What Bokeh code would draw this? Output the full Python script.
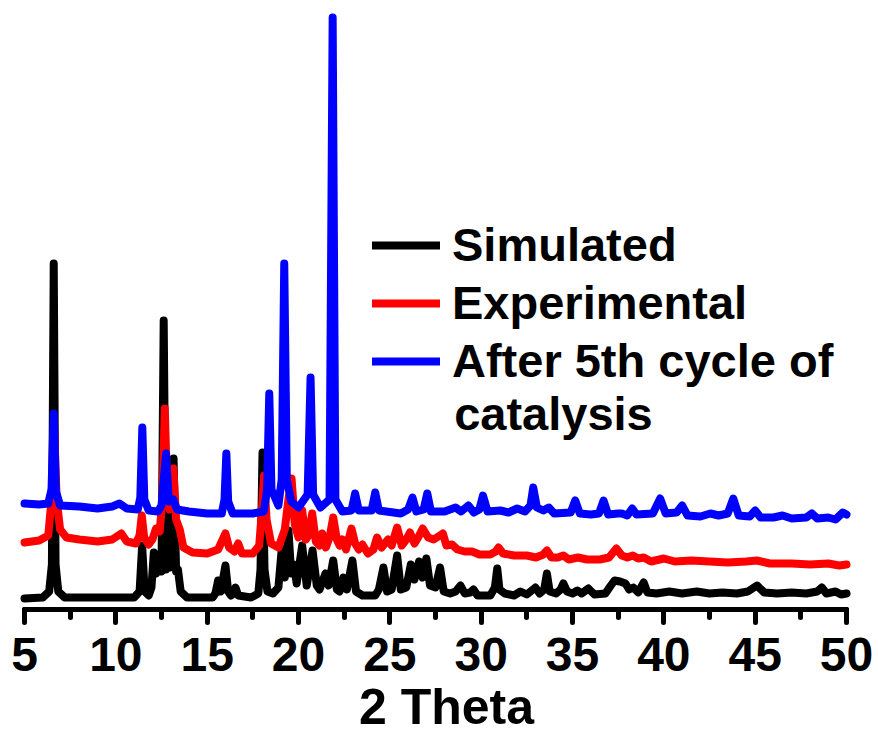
from bokeh.plotting import figure
from bokeh.models import Range1d, SingleIntervalTicker, Legend, LegendItem, Label
from bokeh.embed import file_html
from bokeh.resources import INLINE

# ---- data (2-theta, intensity in a.u.) ----
simulated = [
    (5.0, 11), (6.0, 12), (6.35, 18), (6.5, 45), (6.6, 346), (6.7, 45), (6.85, 18), (7.2, 12),
    (11.0, 12), (11.3, 18), (11.44, 64), (11.58, 18), (11.8, 14), (11.95, 22), (12.08, 57),
    (12.2, 36), (12.35, 50), (12.5, 38), (12.62, 289), (12.74, 40), (12.85, 60), (12.98, 42),
    (13.16, 151), (13.3, 38), (13.4, 40), (13.55, 18), (13.9, 12), (15.3, 12), (15.45, 16),
    (15.6, 29), (15.75, 18), (16.0, 44), (16.15, 18), (16.3, 14), (16.45, 16), (16.55, 22),
    (16.7, 14), (17.4, 12), (17.8, 16), (17.92, 40), (18.03, 157), (18.14, 40), (18.3, 18),
    (18.6, 16), (18.9, 22), (19.08, 60), (19.25, 32), (19.45, 79), (19.6, 36), (19.75, 45),
    (19.9, 26), (20.2, 64), (20.45, 24), (20.77, 59), (21.0, 24), (21.15, 20), (21.48, 36),
    (21.65, 24), (21.9, 49), (22.1, 20), (22.25, 18), (22.46, 32), (22.65, 20), (22.95, 49),
    (23.15, 18), (23.5, 14), (24.2, 14), (24.4, 20), (24.65, 42), (24.85, 18), (25.1, 20),
    (25.4, 54), (25.6, 20), (25.9, 22), (26.15, 45), (26.35, 30), (26.6, 48), (26.8, 32),
    (27.0, 51), (27.2, 24), (27.5, 22), (27.75, 42), (27.95, 18), (28.3, 16), (28.6, 18),
    (28.87, 24), (29.1, 16), (29.4, 17), (29.58, 20), (29.8, 14), (30.5, 14), (30.75, 22),
    (30.88, 41), (31.0, 20), (31.3, 16), (31.8, 14), (32.15, 18), (32.5, 15), (32.97, 22),
    (33.2, 16), (33.45, 20), (33.6, 36), (33.75, 18), (34.1, 16), (34.35, 20), (34.5, 26),
    (34.7, 18), (35.0, 16), (35.27, 19), (35.5, 16), (35.87, 21), (36.2, 15), (36.8, 16),
    (37.1, 24), (37.3, 29), (37.6, 28), (37.9, 26), (38.1, 20), (38.33, 22), (38.6, 17),
    (38.9, 27), (39.1, 17), (39.6, 16), (40.3, 18), (41.0, 16), (41.8, 18), (42.5, 16),
    (43.2, 17), (44.0, 16), (44.6, 18), (45.1, 24), (45.5, 17), (46.2, 16), (47.0, 17),
    (47.8, 16), (48.4, 18), (48.65, 22), (48.9, 16), (49.4, 18), (49.7, 15), (50.0, 16),
]

experimental = [
    (5.0, 67), (5.8, 69), (6.3, 74), (6.48, 110), (6.62, 184), (6.76, 110), (6.95, 80),
    (7.3, 72), (8.0, 70), (9.0, 68), (9.8, 70), (10.3, 76), (10.6, 68), (11.1, 66), (11.3, 74),
    (11.42, 94), (11.55, 72), (11.8, 65), (12.0, 70), (12.2, 81), (12.4, 78), (12.55, 110),
    (12.68, 201), (12.82, 110), (12.95, 100), (13.15, 141), (13.3, 90), (13.5, 80), (13.7, 62),
    (14.2, 57), (15.0, 56), (15.6, 60), (15.85, 70), (16.0, 76), (16.2, 62), (16.5, 58),
    (16.7, 66), (16.9, 56), (17.5, 56), (17.85, 64), (18.0, 100), (18.12, 134), (18.25, 90),
    (18.5, 66), (18.9, 62), (19.25, 80), (19.45, 110), (19.62, 131), (19.8, 85), (20.0, 72),
    (20.2, 99), (20.4, 70), (20.55, 74), (20.75, 96), (20.95, 68), (21.15, 64), (21.3, 76),
    (21.5, 62), (21.7, 72), (21.9, 92), (22.1, 70), (22.25, 64), (22.4, 70), (22.6, 60),
    (22.9, 81), (23.1, 66), (23.3, 60), (23.5, 65), (23.8, 56), (24.1, 60), (24.3, 72),
    (24.55, 62), (24.9, 70), (25.1, 64), (25.4, 82), (25.65, 64), (25.9, 70), (26.1, 77),
    (26.35, 66), (26.55, 72), (26.8, 81), (27.1, 72), (27.4, 70), (27.9, 76), (28.1, 64),
    (28.4, 65), (28.7, 60), (29.1, 58), (29.5, 58), (29.9, 55), (30.5, 55), (30.8, 58),
    (30.95, 62), (31.2, 56), (31.8, 54), (32.5, 54), (33.0, 52), (33.4, 55), (33.6, 59),
    (33.85, 52), (34.2, 52), (34.5, 54), (34.8, 50), (35.3, 52), (35.8, 50), (36.5, 50),
    (37.0, 52), (37.4, 61), (37.7, 54), (38.0, 52), (38.3, 54), (38.6, 51), (38.9, 52),
    (39.3, 48), (40.0, 51), (40.6, 48), (41.5, 49), (42.5, 48), (43.5, 47), (44.5, 48),
    (45.1, 49), (45.8, 46), (47.0, 46), (48.0, 45), (49.0, 46), (49.6, 44), (50.0, 45),
]

after_cycle = [
    (5.0, 106), (5.8, 105), (6.3, 106), (6.48, 120), (6.6, 196), (6.72, 118), (6.95, 104),
    (8.0, 103), (9.0, 101), (9.8, 103), (10.2, 106), (10.6, 101), (11.2, 100), (11.34, 112),
    (11.45, 182), (11.56, 110), (11.8, 99), (12.3, 98), (12.5, 104), (12.75, 156), (12.9, 108),
    (13.15, 110), (13.35, 100), (14.0, 98), (15.0, 96), (15.8, 96), (15.95, 110), (16.05, 156),
    (16.15, 108), (16.4, 96), (17.5, 96), (18.1, 98), (18.28, 120), (18.4, 216), (18.52, 120),
    (18.9, 104), (19.08, 130), (19.22, 346), (19.36, 130), (19.6, 108), (20.0, 102),
    (20.5, 115), (20.66, 232), (20.8, 115), (21.2, 102), (21.7, 110), (21.87, 592),
    (22.02, 110), (22.4, 98), (22.9, 99), (23.1, 116), (23.3, 99), (24.0, 99), (24.2, 117),
    (24.4, 99), (25.2, 97), (25.6, 96), (26.0, 100), (26.24, 112), (26.45, 98), (26.85, 100),
    (27.05, 116), (27.25, 98), (28.0, 98), (28.6, 102), (28.9, 98), (29.3, 104), (29.6, 97),
    (29.9, 100), (30.1, 114), (30.35, 98), (31.05, 99), (31.5, 97), (31.97, 101), (32.4, 98),
    (32.7, 104), (32.85, 122), (33.05, 102), (33.4, 99), (33.7, 102), (34.0, 96), (34.9, 97),
    (35.15, 109), (35.4, 96), (36.0, 95), (36.45, 96), (36.7, 109), (36.95, 95), (37.5, 96),
    (37.7, 96), (38.0, 94), (38.27, 101), (38.5, 95), (39.4, 96), (39.8, 111), (40.1, 96),
    (40.7, 97), (41.0, 104), (41.3, 94), (42.0, 93), (42.55, 96), (43.0, 94), (43.5, 96),
    (43.8, 111), (44.1, 94), (44.7, 93), (45.0, 99), (45.3, 92), (46.0, 92), (46.5, 94),
    (47.0, 91), (47.8, 92), (48.1, 96), (48.4, 91), (49.0, 92), (49.4, 90), (49.8, 97),
    (50.0, 95),
]

series_names = ["Simulated", "Experimental", "After 5th cycle of"]
series_extra_line = "catalysis"
series_colors = ["#000000", "#ff0000", "#0000ff"]
x_axis_bounds = (5, 50)
x_ticks_interval = 5
x_title = "2 Theta"

FONT = "Liberation Sans"

# the frame covers the whole canvas; the x axis is pinned at intensity 0 and
# bounded to 5..50, so its labels and the title are drawn inside the frame
p = figure(width=878, height=735, output_backend="svg", toolbar_location=None,
           x_range=Range1d(3.686, 51.752), y_range=Range1d(-126, 609),
           min_border_left=0, min_border_right=0, min_border_top=0,
           min_border_bottom=0, y_axis_location=None)
p.outline_line_color = None
p.grid.visible = False
p.background_fill_color = "white"
p.border_fill_color = "white"

renderers = []
for data, color in zip([simulated, experimental, after_cycle], series_colors):
    xs = [d[0] for d in data]
    ys = [d[1] for d in data]
    r = p.line(xs, ys, line_color=color, line_width=8, line_join="round", line_cap="round")
    renderers.append(r)

ax = p.xaxis[0]
ax.fixed_location = 0
ax.bounds = x_axis_bounds
ax.ticker = SingleIntervalTicker(interval=x_ticks_interval, num_minor_ticks=2)
ax.axis_line_width = 5
ax.axis_line_cap = "round"
ax.major_tick_line_width = 5
ax.minor_tick_line_width = 5
ax.major_tick_line_cap = "round"
ax.minor_tick_line_cap = "round"
ax.major_tick_in = 0
ax.minor_tick_in = 0
ax.major_tick_out = 13
ax.minor_tick_out = 8
ax.major_label_text_font = FONT
ax.major_label_text_font_style = "bold"
ax.major_label_text_font_size = "48px"
ax.major_label_text_color = "black"
ax.major_label_standoff = 15

title = Label(x=28.1, y=-97, text=x_title, text_font=FONT, text_font_style="bold",
              text_font_size="50px", text_color="black", text_align="center",
              text_baseline="alphabetic")
p.add_layout(title)

legend = Legend(items=[LegendItem(label=n, renderers=[r]) for n, r in zip(series_names, renderers)],
                location=(372, 347))
legend.padding = 0
legend.margin = 0
legend.spacing = 3
legend.glyph_width = 68
legend.glyph_height = 50
legend.label_height = 50
legend.label_standoff = 12
legend.label_text_font = FONT
legend.label_text_font_style = "bold"
legend.label_text_font_size = "47px"
legend.label_text_color = "black"
legend.border_line_color = None
legend.background_fill_alpha = 0
p.add_layout(legend, "center")

extra = Label(x=28.52, y=196, text=series_extra_line, text_font=FONT, text_font_style="bold",
              text_font_size="47px", text_color="black", text_baseline="alphabetic")
p.add_layout(extra)

open("out.html", "w").write(file_html(p, INLINE))
